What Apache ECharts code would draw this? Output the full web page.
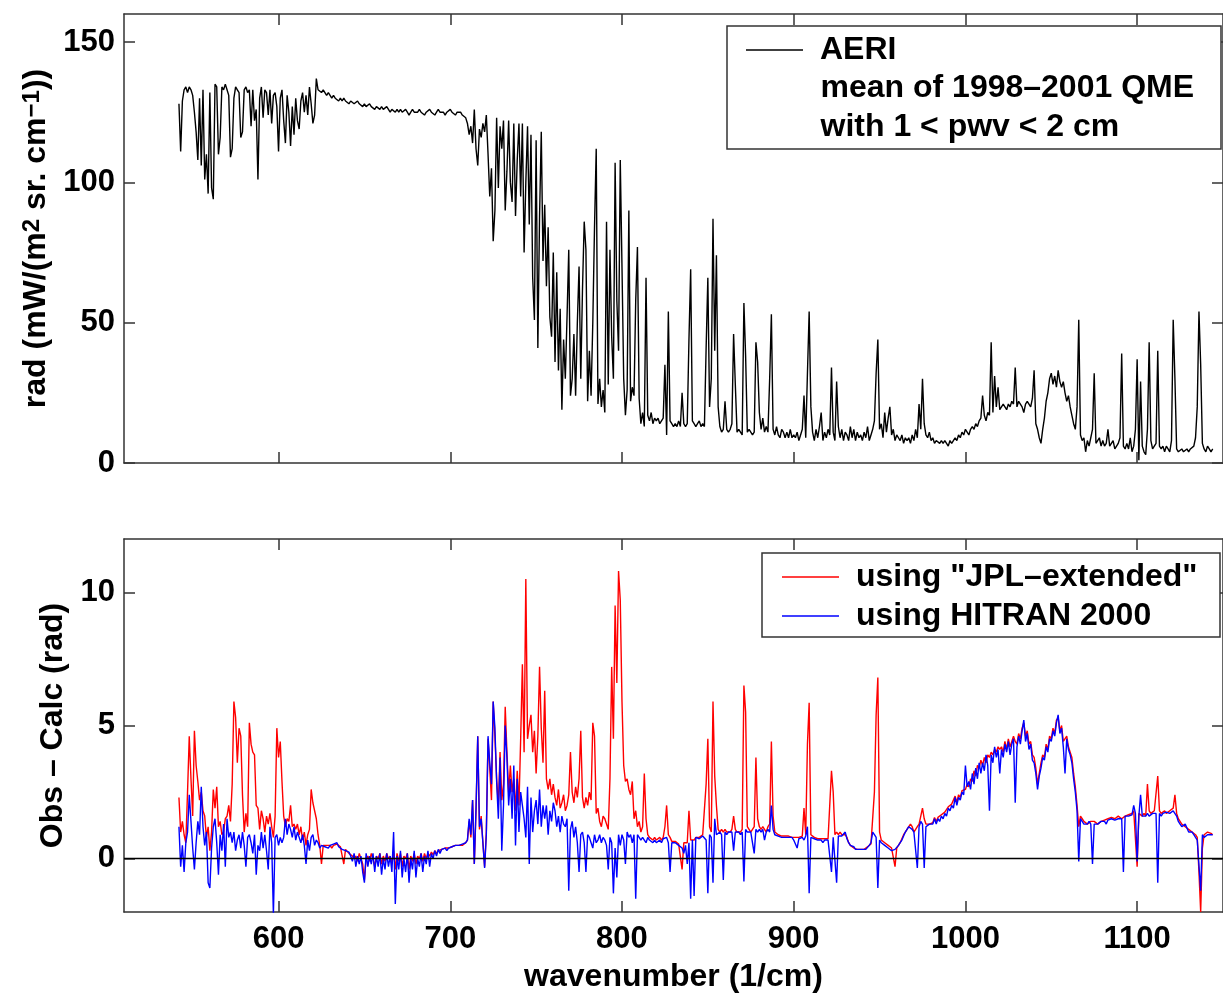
<!DOCTYPE html>
<html><head><meta charset="utf-8">
<script src="https://cdn.jsdelivr.net/npm/echarts@6/dist/echarts.min.js"></script>
<style>html,body{margin:0;padding:0;background:#fff}#c{width:1223px;height:994px}</style>
</head><body><div id="c"></div>
<script>
// sampling grid of the spectra (wavenumber, 1/cm): 542..1144, every 1 cm-1
const wnStart = 542, wnStep = 1;

// AERI mean radiance, mW/(m2 sr cm-1)
const aeri = [
128,111,129,133,134,132,134,133,131,125,118,108,130,106,133,101,110,96,132,
98,94,135,134,110,116,134,133,135,133,131,109,112,130,134,133,132,116,118,133,
134,132,133,120,133,122,126,101,130,134,123,133,132,124,133,121,131,132,127,111,
130,133,122,114,131,125,113,127,117,130,122,119,129,132,125,131,124,134,128,121,
124,137,133,133,132,133,132,131,132,131,130,131,130,130,129,130,129,130,129,129,
128,129,129,128,128,129,128,128,127,128,127,127,128,127,127,126,127,127,126,127,
126,126,127,126,125,126,126,125,126,125,126,125,125,126,125,124,125,126,125,125,
125,126,125,125,124,125,125,126,125,125,124,125,126,125,125,125,124,125,125,126,
125,125,124,125,125,125,124,124,123,121,117,120,114,126,112,106,119,116,121,118,
124,110,95,105,79,90,123,98,120,112,122,90,104,122,100,93,121,88,108,121,
95,121,75,100,120,85,117,66,51,115,41,88,118,72,92,63,84,52,45,75,
36,68,33,55,19,44,30,52,76,24,30,46,24,50,70,30,62,86,76,22,
40,24,50,84,112,21,30,20,26,18,86,28,76,45,30,107,58,40,108,70,
30,17,26,90,22,27,24,58,77,23,14,18,13,66,17,15,18,14,16,15,
16,14,15,16,35,10,54,15,14,13,14,13,15,13,25,14,13,14,44,69,
15,14,13,14,15,13,14,13,41,66,20,30,87,40,74,20,13,11,12,22,
12,11,12,14,46,28,11,12,11,10,57,38,11,12,11,10,11,43,36,18,
12,16,11,13,11,30,53,12,10,13,10,9,12,11,9,11,9,12,9,10,
9,11,8,10,12,24,9,32,54,20,11,8,12,9,13,18,8,11,9,12,
10,34,11,8,29,13,9,12,8,11,10,8,13,9,12,8,11,9,10,8,
11,9,13,8,10,12,15,32,44,12,14,9,18,11,16,20,10,12,8,10,
9,8,10,7,9,8,9,7,10,8,12,9,21,12,30,14,10,9,11,8,
9,7,8,8,7,8,7,8,7,6,8,7,8,9,8,10,9,11,10,12,
11,10,12,13,12,14,13,15,16,24,17,15,18,17,43,18,31,20,27,19,
20,21,20,19,21,20,22,21,34,20,22,21,20,18,21,22,21,20,23,33,
14,12,9,7,12,16,22,25,30,32,28,31,27,33,29,27,29,25,22,24,
20,17,14,12,20,51,10,8,9,4,8,6,9,12,32,7,8,9,6,8,
6,7,12,6,7,8,5,6,7,9,39,6,5,7,5,9,4,6,12,37,
1,29,6,4,3,12,43,8,5,6,7,40,6,5,6,4,6,5,4,8,
51,30,5,4,4,5,4,4,5,4,5,5,6,9,20,54,35,7,5,4,
6,5,4,5
];

// Obs - Calc using "JPL-extended"
const jpl = [
2.3,1.0,1.4,0.9,0.6,2.5,4.6,3.0,1.6,4.8,3.5,2.9,2.2,2.5,1.8,1.6,0.8,1.2,0.3,
1.0,2.6,1.9,2.7,1.2,1.4,0.9,1.0,1.5,1.6,2.0,1.4,2.8,5.9,5.3,3.6,4.9,4.6,2.4,1.0,
1.7,1.2,5.1,4.3,4.0,3.9,2.0,1.9,1.1,1.8,1.5,1.0,1.6,1.3,1.7,1.2,0.8,1.6,4.9,3.8,
4.4,2.9,1.6,1.2,1.5,1.4,2.0,1.2,1.3,1.1,1.3,0.9,1.2,0.7,1.0,0.5,0.9,1.1,2.6,2.1,
1.8,1.5,0.9,0.5,-0.2,0.5,0.45,0.5,0.45,0.5,0.4,0.5,0.45,0.55,0.5,0.45,0.4,-0.2,0.35,0.3,
0.2,0.25,0.1,0.0,0.1,-0.1,0.2,0.0,-0.2,-0.8,0.0,0.1,-0.1,0.2,0.0,-0.3,0.1,0.0,0.2,-0.2,
0.1,-0.1,0.2,0.0,0.1,-0.2,0.3,-0.4,0.2,-0.1,0.2,-0.3,0.1,0.0,0.2,-0.4,0.1,-0.1,0.2,-0.2,
0.1,0.0,0.2,-0.1,0.2,0.0,0.2,0.1,0.25,0.15,0.3,0.2,0.3,0.3,0.35,0.3,0.4,0.35,0.4,0.4,
0.45,0.4,0.5,0.45,0.5,0.55,0.5,0.55,0.6,0.7,1.4,0.8,2.2,-0.2,1.8,4.6,1.1,1.6,0.6,-0.3,
1.0,4.5,3.4,2.2,5.9,4.6,3.0,2.0,4.0,2.2,2.8,5.7,4.0,2.5,3.5,2.5,3.0,1.8,3.3,2.0,
4.5,7.3,4.0,10.5,4.5,5.0,5.4,4.0,4.8,3.2,4.6,7.2,4.9,3.6,6.3,3.0,2.6,3.0,2.4,2.8,
2.3,2.0,2.6,1.9,2.1,2.4,1.8,2.0,2.4,4.0,2.5,2.1,2.7,2.3,3.0,4.8,2.3,1.9,2.3,2.0,
2.5,2.2,5.1,4.6,1.7,1.9,1.4,1.2,1.6,1.5,1.3,1.1,3.0,7.2,4.5,9.5,6.6,10.8,9.7,5.9,
3.5,2.9,3.0,2.6,2.4,2.9,1.5,1.8,1.2,1.4,1.0,1.2,3.2,1.5,0.9,0.8,0.8,0.7,0.8,0.7,
0.75,0.8,0.7,0.8,1.2,2.0,0.9,0.8,0.65,0.6,0.65,0.6,0.55,0.6,-0.4,0.6,0.55,0.6,1.8,0.7,
0.75,0.7,0.8,0.85,0.8,0.85,0.9,0.85,2.8,4.5,1.2,1.0,5.9,3.1,2.0,1.1,1.0,1.1,1.0,1.1,
1.0,1.05,1.0,1.1,1.6,1.1,1.0,1.05,1.0,1.1,6.5,5.5,1.2,1.1,1.0,1.1,1.2,3.8,1.5,1.2,
1.1,1.2,1.1,1.0,1.2,1.3,4.4,1.6,1.0,0.95,0.9,0.9,0.85,0.9,0.85,0.8,0.85,0.8,0.8,0.75,
0.8,0.75,0.8,0.8,0.85,1.9,0.9,4.3,5.85,0.9,0.85,0.8,0.8,0.75,0.8,0.75,0.7,0.75,0.7,0.75,
0.8,3.3,2.5,0.9,1.0,0.9,1.0,0.9,0.95,0.9,0.8,0.6,0.5,0.45,0.4,0.4,0.35,0.4,0.35,0.4,
0.35,0.4,0.45,0.5,0.55,0.6,2.5,5.4,6.8,1.0,0.7,0.65,0.6,0.55,0.5,0.45,0.4,0.35,-0.3,0.4,
0.5,0.6,0.75,0.9,1.0,1.1,1.2,1.3,1.2,1.0,1.1,1.2,1.3,1.6,1.9,1.5,1.3,1.25,1.3,1.3,
1.35,1.55,1.4,1.55,1.5,1.65,1.6,1.75,1.7,1.95,1.9,2.05,2.0,2.35,2.1,2.4,2.3,2.55,2.5,2.6,
2.8,2.7,3.0,2.9,3.3,3.1,3.5,3.4,3.7,3.5,3.8,3.6,3.9,3.8,4.0,3.9,4.1,4.0,4.2,4.1,
4.2,4.0,4.4,4.1,4.5,4.2,4.4,4.6,4.4,4.3,4.7,4.5,4.9,5.1,4.6,4.8,4.3,4.4,3.9,3.8,
3.4,2.8,3.2,3.6,3.9,3.8,4.3,4.1,4.6,4.5,4.9,4.7,5.2,5.3,4.8,5.0,4.4,4.4,4.6,4.2,
4.0,3.8,3.2,2.7,2.0,1.2,1.6,1.5,1.4,1.4,1.3,1.35,1.4,1.4,1.4,1.35,1.3,1.35,1.4,1.4,
1.45,1.5,1.5,1.5,1.55,1.6,1.5,1.55,1.6,1.6,1.5,1.5,1.6,1.6,1.65,1.7,1.7,1.8,1.75,-0.3,
1.7,1.7,1.6,1.7,1.6,2.8,1.8,1.7,1.75,1.8,1.75,3.1,1.8,1.7,1.75,1.8,1.7,1.75,1.8,1.8,
1.9,2.4,1.7,1.5,1.4,1.3,1.3,1.2,1.2,1.1,1.05,1.0,0.95,0.9,0.8,-0.5,-2.0,0.4,0.9,0.9,
1.0,1.0,0.95,0.9
];

// Obs - Calc using HITRAN 2000
const hitran = [
1.2,-0.3,0.5,-0.5,0.6,1.0,2.4,1.4,0.4,-0.4,0.6,1.4,0.9,2.7,1.2,0.5,1.0,-0.9,-1.1,
0.4,1.2,1.5,0.6,-0.6,0.9,0.3,1.3,-0.3,1.5,0.8,1.0,0.6,1.0,0.3,0.7,0.9,0.4,1.0,0.5,
-0.3,0.8,0.9,0.6,0.2,0.9,-0.6,0.5,0.3,1.0,0.4,0.9,0.3,-0.4,1.2,0.6,-2.1,0.8,0.9,0.5,
0.8,0.6,0.8,1.5,0.9,1.3,1.1,0.8,1.2,0.7,1.0,0.8,0.6,0.9,0.5,-0.2,0.7,0.3,0.8,0.9,
0.5,0.7,0.6,0.4,0.5,0.45,0.45,0.5,0.4,0.5,0.45,0.55,0.5,0.6,0.45,0.5,0.35,0.4,0.3,0.35,
0.25,0.1,-0.1,0.2,-0.3,0.1,-0.2,0.1,-0.5,-0.9,0.2,-0.3,0.1,-0.2,0.2,-0.5,0.1,-0.3,0.2,-0.6,
0.0,-0.4,0.2,-0.3,0.1,-0.5,1.0,-1.7,0.1,-0.4,0.3,-0.7,0.0,-0.5,0.2,-0.9,0.0,-0.4,0.3,-0.7,
0.0,-0.3,0.2,-0.5,0.1,-0.2,0.3,-0.3,0.2,0.0,0.3,0.1,0.35,0.2,0.35,0.3,0.4,0.3,0.4,0.35,
0.45,0.4,0.5,0.45,0.5,0.5,0.55,0.5,0.6,0.7,1.5,0.9,2.2,-0.2,1.9,4.6,1.2,1.5,0.6,-0.35,
0.9,4.6,3.6,2.8,5.9,4.9,2.9,1.5,3.8,0.3,2.0,5.0,3.8,2.0,3.0,1.5,3.5,0.5,3.0,1.0,
2.5,2.0,1.5,0.8,2.7,-0.2,2.3,1.0,1.8,2.2,1.3,2.6,1.2,2.0,1.5,2.0,0.9,1.8,1.4,2.1,
1.8,1.2,1.6,1.0,1.6,1.3,1.2,1.5,-1.2,1.1,1.4,0.8,1.2,0.6,-0.5,0.9,1.0,0.6,-0.5,0.9,
0.8,0.6,0.4,0.9,0.6,0.7,0.9,0.6,0.8,0.7,0.5,-0.4,0.8,0.6,-1.3,0.4,-0.7,0.9,0.5,0.9,
0.7,-0.2,1.0,0.8,0.9,0.6,0.9,-1.5,0.9,0.8,0.7,0.8,0.7,0.6,0.8,0.7,0.75,0.6,0.7,0.6,
0.65,0.7,0.6,0.75,0.7,0.8,0.6,-0.5,0.6,0.55,0.6,0.55,0.5,0.55,0.4,0.2,0.5,-0.2,0.6,-1.5,
0.7,-1.4,0.8,0.8,0.75,0.8,0.85,0.8,0.7,-1.3,0.9,0.8,-0.9,1.5,0.9,0.9,1.0,0.9,-0.8,1.0,
0.9,1.0,0.95,1.0,0.3,1.0,0.95,1.0,0.9,1.0,-0.85,1.1,1.0,1.05,1.0,1.0,0.2,1.1,1.0,1.1,
1.0,1.1,0.7,1.0,1.1,1.0,2.0,1.1,0.9,0.9,0.85,0.85,0.8,0.85,0.8,0.75,0.8,0.75,0.8,0.7,
0.75,0.4,0.75,0.8,0.8,0.7,0.85,1.2,-1.3,0.8,0.8,0.75,0.7,0.7,0.75,0.7,0.6,0.7,0.65,0.7,
0.7,-0.5,0.8,0.8,-0.9,0.85,0.9,0.85,0.9,1.0,0.75,0.6,0.5,0.45,0.45,0.35,0.4,0.35,0.3,0.35,
0.3,0.35,0.4,0.5,0.6,1.0,0.9,0.8,-1.1,0.7,0.6,0.55,0.5,0.45,0.4,0.35,0.3,0.3,0.35,0.4,
0.5,0.6,0.7,0.85,1.0,1.1,1.2,1.25,1.1,1.0,1.0,-0.35,1.2,1.4,1.3,-0.35,1.2,1.2,1.3,1.25,
1.3,1.5,1.3,1.5,1.4,1.6,1.5,1.7,1.6,1.9,1.8,2.0,1.9,2.3,2.0,2.3,2.2,2.5,2.4,3.5,
2.7,2.9,2.6,3.2,2.8,3.4,3.0,3.6,3.2,3.6,3.3,3.9,3.5,1.8,3.9,3.6,4.2,3.8,4.1,3.2,
4.1,3.8,4.3,4.0,4.4,3.9,4.3,4.5,2.1,4.2,4.6,4.3,4.8,5.2,4.4,4.7,4.1,4.3,3.7,3.6,
3.2,2.6,3.1,3.4,3.8,3.7,4.2,4.0,4.5,4.4,4.8,4.6,5.1,5.4,4.7,4.9,4.2,3.2,4.5,4.1,
3.9,3.6,3.0,2.5,1.8,-0.1,1.5,1.4,1.3,1.35,1.3,1.4,1.3,-0.2,1.3,1.3,1.3,1.3,1.4,1.35,
1.4,1.3,1.45,1.5,1.5,1.5,1.45,1.4,1.5,1.55,1.5,-0.5,1.6,1.55,1.6,1.6,1.65,2.0,1.7,-0.1,
1.6,2.4,1.6,1.6,1.6,1.7,1.6,1.6,1.7,1.7,1.7,-0.9,1.7,1.6,1.7,1.7,1.75,1.8,1.7,1.75,
1.8,1.8,1.6,1.4,1.3,1.2,1.25,1.3,1.15,1.0,1.0,1.0,0.9,0.85,0.7,0.7,-1.2,0.9,0.8,0.85,
0.9,0.95,0.9,0.9
];

const xTicks = [600,700,800,900,1000,1100];
const radTicks = [0,50,100,150];
const diffTicks = [0,5,10];
const seriesNames = ['AERI','using "JPL–extended"','using HITRAN 2000'];
const aeriNote = ['mean of 1998–2001 QME','with 1 < pwv < 2 cm'];

const toPairs = arr => arr.map((v,i) => [wnStart + i*wnStep, v]);

const F = '"Liberation Sans", Arial, Helvetica, sans-serif';
const frameLine = {show:true, onZero:false, lineStyle:{color:'#333', width:1.5}};
const tickStyle = {color:'#333', width:1.5};
const plain = v => String(v);

function xAx(grid, pos, labels){
  const a = {
    gridIndex:grid, type:'value', position:pos, min:510, max:1150,
    axisLine:frameLine,
    axisTick:{show:true, inside:true, length:11, customValues:xTicks, lineStyle:tickStyle},
    axisLabel:{show:labels, customValues:xTicks, formatter:plain, fontSize:31, fontWeight:'bold', color:'#000', fontFamily:F, margin:12},
    splitLine:{show:false}
  };
  if (labels) {
    a.name = 'wavenumber (1/cm)';
    a.nameLocation = 'middle';
    a.nameGap = 49;
    a.nameTextStyle = {fontSize:32, fontWeight:'bold', color:'#000', fontFamily:F};
  }
  return a;
}
function yAx(grid, pos, labels, min, max, ticks, name, gap){
  const a = {
    gridIndex:grid, type:'value', position:pos, min:min, max:max,
    axisLine:frameLine,
    axisTick:{show:true, inside:true, length:11, customValues:ticks, lineStyle:tickStyle},
    axisLabel:{show:labels, customValues:ticks, formatter:plain, fontSize:31, fontWeight:'bold', color:'#000', fontFamily:F, margin:9},
    splitLine:{show:false}
  };
  if (name) {
    a.name = name;
    a.nameLocation = 'middle';
    a.nameGap = gap;
    a.nameRotate = 90;
    a.nameTextStyle = {fontSize:32, fontWeight:'bold', color:'#000', fontFamily:F,
      rich:{sup:{fontSize:24, fontWeight:'bold', color:'#000', fontFamily:F, verticalAlign:'top', lineHeight:18}}};
  }
  return a;
}

const chart = echarts.init(document.getElementById('c'), null, {renderer:'canvas'});
chart.setOption({
  animation:false,
  backgroundColor:'#fff',
  grid:[
    {left:124, top:14, width:1109, height:449},
    {left:124, top:539, width:1109, height:376}
  ],
  xAxis:[xAx(0,'bottom',false), xAx(0,'top',false), xAx(1,'bottom',true), xAx(1,'top',false)],
  yAxis:[
    yAx(0,'left',true,0,160,radTicks,'rad (mW/(m{sup|2} sr. cm{sup|−1}))',50),
    yAx(0,'right',false,0,160,radTicks),
    yAx(1,'left',true,-2,12,diffTicks,'Obs – Calc (rad)',47),
    yAx(1,'right',false,-2,12,diffTicks)
  ],
  legend:[
    {data:[seriesNames[0]], left:746, top:32, padding:0, icon:'rect', itemWidth:57, itemHeight:1.5,
     textStyle:{fontSize:32, fontWeight:'bold', color:'#000', fontFamily:F, lineHeight:36, padding:[0,0,0,12]}, z:6},
    {data:[seriesNames[1], seriesNames[2]], orient:'vertical', left:782, top:559, padding:0, itemGap:3,
     icon:'rect', itemWidth:57, itemHeight:1.5,
     textStyle:{fontSize:32, fontWeight:'bold', color:'#000', fontFamily:F, lineHeight:36, padding:[0,0,0,12]}, z:6}
  ],
  graphic:[
    {type:'rect', z:5, shape:{x:727, y:26, width:494, height:123}, style:{fill:'#fff', stroke:'#333', lineWidth:1.5}},
    {type:'rect', z:5, shape:{x:762, y:553, width:458, height:84}, style:{fill:'#fff', stroke:'#333', lineWidth:1.5}},
    {type:'text', z:6, x:820.5, y:88, style:{text:aeriNote[0], font:'bold 32px '+F, fill:'#000', verticalAlign:'middle'}},
    {type:'text', z:6, x:820.5, y:127, style:{text:aeriNote[1], font:'bold 32px '+F, fill:'#000', verticalAlign:'middle'}}
  ],
  series:[
    {name:seriesNames[0], type:'line', xAxisIndex:0, yAxisIndex:0, data:toPairs(aeri),
     symbol:'none', showSymbol:false, lineStyle:{color:'#000', width:1.4}, itemStyle:{color:'#000'}, z:2},
    {name:seriesNames[1], type:'line', xAxisIndex:2, yAxisIndex:2, data:toPairs(jpl),
     symbol:'none', showSymbol:false, lineStyle:{color:'#ff0000', width:1.4}, itemStyle:{color:'#ff0000'}, z:2},
    {name:seriesNames[2], type:'line', xAxisIndex:2, yAxisIndex:2, data:toPairs(hitran),
     symbol:'none', showSymbol:false, lineStyle:{color:'#0000ff', width:1.4}, itemStyle:{color:'#0000ff'}, z:3,
     markLine:{silent:true, symbol:'none', label:{show:false}, animation:false,
       lineStyle:{color:'#000', width:1.3, type:'solid'}, data:[{yAxis:0}]}}
  ]
});
</script>
</body></html>
